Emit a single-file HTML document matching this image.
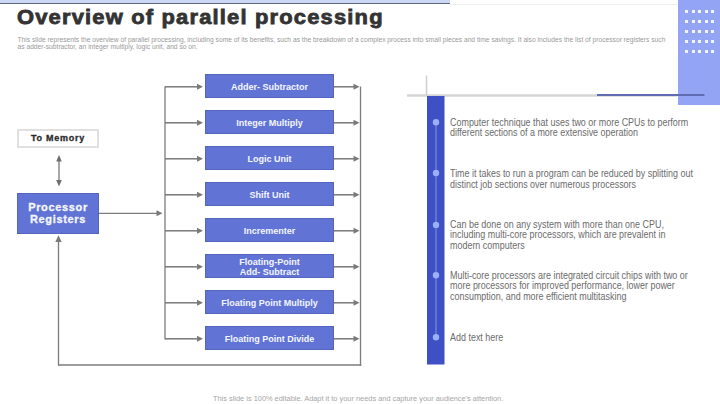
<!DOCTYPE html>
<html><head><meta charset="utf-8">
<style>
*{margin:0;padding:0;box-sizing:border-box}
html,body{width:720px;height:404px;overflow:hidden;background:#fff;font-family:"Liberation Sans",sans-serif}
.abs{position:absolute}
#topstrip{left:0;top:0;width:450px;height:3px;background:#cdd6f3}
#topline{left:0;top:3px;width:450px;height:1.3px;background:#5f687d}
#topfaint{left:450px;top:3.5px;width:227px;height:1px;background:#eee}
#title{left:16.8px;top:4.5px;font-size:20.3px;font-weight:bold;color:#333;white-space:nowrap;letter-spacing:1.1px;transform-origin:0 0;transform:scaleX(1.08);-webkit-text-stroke:0.8px #333;line-height:24px}
.sub{left:17.5px;font-size:6.7px;color:#999;white-space:nowrap;line-height:8px}
#lav{left:677.5px;top:0;width:42.5px;height:105.3px;background:#94a4f5}
.dot{width:3px;height:3px;background:#f2f4ff}
.box{left:205px;width:129px;height:24px;background:#6174d5;border:1px solid #5565bb;color:#f4f6ff;font-weight:bold;font-size:9px;display:flex;align-items:center;justify-content:center;text-align:center;line-height:10px;padding-top:1px}
svg{position:absolute;left:0;top:0}
.para{left:449.5px;font-size:10px;color:#6b6b6b;line-height:10.65px;transform-origin:0 0;transform:scaleX(0.895);white-space:nowrap}
</style></head><body>
<div class="abs" id="topstrip"></div>
<div class="abs" id="topline"></div>
<div class="abs" id="topfaint"></div>
<div class="abs" id="title">Overview of parallel processing</div>
<div class="abs sub" style="top:35.5px">This slide represents the overview of parallel processing, including some of its benefits, such as the breakdown of a complex process into small pieces and time savings. It also includes the list of processor registers such</div>
<div class="abs sub" style="top:42.5px">as adder-subtractor, an integer multiply, logic unit, and so on.</div>

<div class="abs" id="lav"></div>
<div id="dots"><div class="abs dot" style="left:685px;top:10.3px"></div><div class="abs dot" style="left:691.6px;top:10.3px"></div><div class="abs dot" style="left:698.2px;top:10.3px"></div><div class="abs dot" style="left:704.8px;top:10.3px"></div><div class="abs dot" style="left:711.4px;top:10.3px"></div><div class="abs dot" style="left:685px;top:20.2px"></div><div class="abs dot" style="left:691.6px;top:20.2px"></div><div class="abs dot" style="left:698.2px;top:20.2px"></div><div class="abs dot" style="left:704.8px;top:20.2px"></div><div class="abs dot" style="left:711.4px;top:20.2px"></div><div class="abs dot" style="left:685px;top:30.1px"></div><div class="abs dot" style="left:691.6px;top:30.1px"></div><div class="abs dot" style="left:698.2px;top:30.1px"></div><div class="abs dot" style="left:704.8px;top:30.1px"></div><div class="abs dot" style="left:711.4px;top:30.1px"></div><div class="abs dot" style="left:685px;top:40px"></div><div class="abs dot" style="left:691.6px;top:40px"></div><div class="abs dot" style="left:698.2px;top:40px"></div><div class="abs dot" style="left:704.8px;top:40px"></div><div class="abs dot" style="left:711.4px;top:40px"></div><div class="abs dot" style="left:685px;top:49.9px"></div><div class="abs dot" style="left:691.6px;top:49.9px"></div><div class="abs dot" style="left:698.2px;top:49.9px"></div><div class="abs dot" style="left:704.8px;top:49.9px"></div><div class="abs dot" style="left:711.4px;top:49.9px"></div></div>

<svg width="720" height="404" viewBox="0 0 720 404">
  <g stroke="#7c7c7c" stroke-width="1.3" fill="none">
    <!-- left vertical -->
    <line x1="165" y1="86.5" x2="165" y2="339.5"/>
    <!-- right vertical -->
    <line x1="360.5" y1="86.5" x2="360.5" y2="365.75"/>
    <!-- bottom -->
    <line x1="58.5" y1="365" x2="361.25" y2="365"/>
    <!-- up line -->
    <line x1="58.5" y1="365.75" x2="58.5" y2="240"/>
    <!-- processor to left vertical -->
    <line x1="99" y1="213.3" x2="158" y2="213.3"/>
    <!-- double arrow -->
    <line x1="59" y1="160" x2="59" y2="182" stroke-width="1.2" stroke="#6e6e6e"/>
  </g>
  <g id="arr" fill="#7a7a7a"><rect x="165" y="86.05" width="34" height="1.5"/><rect x="334" y="86.05" width="22" height="1.5"/><path d="M197 83.8 L203 86.8 L197 89.8 Z"/><path d="M353.5 83.8 L359.5 86.8 L353.5 89.8 Z"/><rect x="165" y="122.05" width="34" height="1.5"/><rect x="334" y="122.05" width="22" height="1.5"/><path d="M197 119.8 L203 122.8 L197 125.8 Z"/><path d="M353.5 119.8 L359.5 122.8 L353.5 125.8 Z"/><rect x="165" y="158.05" width="34" height="1.5"/><rect x="334" y="158.05" width="22" height="1.5"/><path d="M197 155.8 L203 158.8 L197 161.8 Z"/><path d="M353.5 155.8 L359.5 158.8 L353.5 161.8 Z"/><rect x="165" y="194.05" width="34" height="1.5"/><rect x="334" y="194.05" width="22" height="1.5"/><path d="M197 191.8 L203 194.8 L197 197.8 Z"/><path d="M353.5 191.8 L359.5 194.8 L353.5 197.8 Z"/><rect x="165" y="230.05" width="34" height="1.5"/><rect x="334" y="230.05" width="22" height="1.5"/><path d="M197 227.8 L203 230.8 L197 233.8 Z"/><path d="M353.5 227.8 L359.5 230.8 L353.5 233.8 Z"/><rect x="165" y="266.05" width="34" height="1.5"/><rect x="334" y="266.05" width="22" height="1.5"/><path d="M197 263.8 L203 266.8 L197 269.8 Z"/><path d="M353.5 263.8 L359.5 266.8 L353.5 269.8 Z"/><rect x="165" y="302.05" width="34" height="1.5"/><rect x="334" y="302.05" width="22" height="1.5"/><path d="M197 299.8 L203 302.8 L197 305.8 Z"/><path d="M353.5 299.8 L359.5 302.8 L353.5 305.8 Z"/><rect x="165" y="338.05" width="34" height="1.5"/><rect x="334" y="338.05" width="22" height="1.5"/><path d="M197 335.8 L203 338.8 L197 341.8 Z"/><path d="M353.5 335.8 L359.5 338.8 L353.5 341.8 Z"/><path d="M156.5 210.3 L162.5 213.3 L156.5 216.3 Z"/><path d="M56.2 161.5 L59 155 L61.8 161.5 Z" fill="#6e6e6e"/><path d="M56.2 180 L59 186.5 L61.8 180 Z" fill="#6e6e6e"/><path d="M55.3 242 L58.5 235.3 L61.7 242 Z"/></g>
  <!-- right panel lines -->
  <line x1="407" y1="95.5" x2="677" y2="95.5" stroke="#d6d6d6" stroke-width="2.3"/>
  <line x1="426.5" y1="75.5" x2="426.5" y2="96" stroke="#cfcfcf" stroke-width="1.5"/>
  <line x1="597" y1="95" x2="704.5" y2="95" stroke="#5f6cb2" stroke-width="2.2"/>
  <rect x="427" y="96" width="17.5" height="268.5" fill="#3f4fc4"/>
  <line x1="436" y1="122" x2="436" y2="337" stroke="#7f95ea" stroke-width="1"/>
  <g fill="#9ab0f8">
    <circle cx="436" cy="122.3" r="3.2"/>
    <circle cx="436" cy="173" r="3.2"/>
    <circle cx="436" cy="224.9" r="3.2"/>
    <circle cx="436" cy="275.2" r="3.2"/>
    <circle cx="436" cy="337.3" r="3.2"/>
  </g>
</svg>

<div class="abs" style="left:17px;top:129.2px;width:82px;height:19px;border:2px solid #e0e0e0;background:#fff;color:#2a2a2a;font-weight:bold;font-size:9px;letter-spacing:0.75px;-webkit-text-stroke:0.3px #2a2a2a;display:flex;align-items:center;justify-content:center;padding-bottom:1.5px">To Memory</div>
<div class="abs" style="left:17px;top:193px;width:82px;height:40.5px;background:#6174d5;border:1px solid #5565bb;color:#f4f6ff;font-weight:bold;font-size:11px;letter-spacing:0.65px;-webkit-text-stroke:0.3px #f4f6ff;line-height:12px;display:flex;align-items:center;justify-content:center;text-align:center">Processor<br>Registers</div>

<div class="abs box" style="top:74.2px">Adder- Subtractor</div>
<div class="abs box" style="top:110.2px">Integer Multiply</div>
<div class="abs box" style="top:146.2px">Logic Unit</div>
<div class="abs box" style="top:182.2px">Shift Unit</div>
<div class="abs box" style="top:218.2px">Incrementer</div>
<div class="abs box" style="top:254.2px">Floating-Point<br>Add- Subtract</div>
<div class="abs box" style="top:290.2px">Floating Point Multiply</div>
<div class="abs box" style="top:326.2px">Floating Point Divide</div>

<div class="abs para" style="top:117.5px">Computer technique that uses two or more CPUs to perform<br>different sections of a more extensive operation</div>
<div class="abs para" style="top:169.4px">Time it takes to run a program can be reduced by splitting out<br>distinct job sections over numerous processors</div>
<div class="abs para" style="top:219.5px">Can be done on any system with more than one CPU,<br>including multi-core processors, which are prevalent in<br>modern computers</div>
<div class="abs para" style="top:270.8px">Multi-core processors are integrated circuit chips with two or<br>more processors for improved performance, lower power<br>consumption, and more efficient multitasking</div>
<div class="abs para" style="top:332.5px">Add text here</div>

<div class="abs" style="left:213px;top:394px;font-size:7.4px;color:#a5a5a5;white-space:nowrap;line-height:9px">This slide is 100% editable. Adapt it to your needs and capture your audience's attention.</div>

</body></html>
